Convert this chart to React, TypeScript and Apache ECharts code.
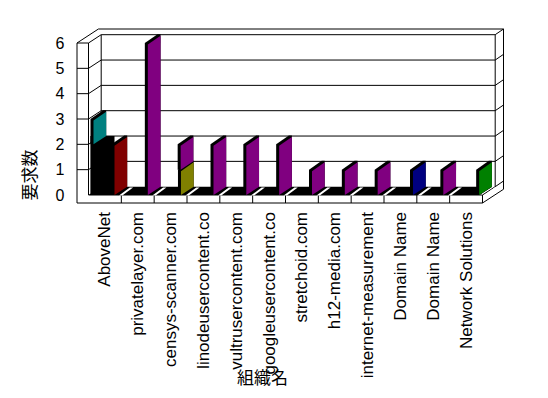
import React, { useEffect, useRef } from "react";
import * as echarts from "echarts";

// ---- data ----
const categories = [
  "AboveNet",
  "privatelayer.com",
  "censys-scanner.com",
  "linodeusercontent.co",
  "vultrusercontent.com",
  "googleusercontent.co",
  "stretchoid.com",
  "h12-media.com",
  "internet-measurement",
  "Domain Name",
  "Domain Name",
  "Network Solutions",
];
const yMin = 0;
const yMax = 6;
const yStep = 1;

const blackValues = [2, 0, 0, 0, 0, 0, 0, 0, 0, 0, 0, 0];
const tealValues = [1, 0, 0, 0, 0, 0, 0, 0, 0, 0, 0, 0];
const maroonValues = [2, 0, 0, 0, 0, 0, 0, 0, 0, 0, 0, 0];
const oliveValues = [0, 0, 1, 0, 0, 0, 0, 0, 0, 0, 0, 0];
const navyValues = [0, 0, 0, 0, 0, 0, 0, 0, 0, 1, 0, 0];
const greenValues = [0, 0, 0, 0, 0, 0, 0, 0, 0, 0, 0, 1];
const purpleValues = [0, 6, 1, 2, 2, 2, 1, 1, 1, 0, 1, 0];

const yAxisTitle = "要求数";
const xAxisTitle = "組織名";

// ---- style ----
const DX = 12.7; // depth offset x
const DY = -8.3; // depth offset y
const SLAB = 11.5; // left wall thickness (front face)
const FLOOR = 8; // floor thickness
const ODX = 8.3; // outer back thickness
const ODY = -5.7;
const EDGE = 3; // black edge on plates

const seriesDefs = [
  { name: "s1", values: blackValues, color: "#000000", stack: "front", slot: 1.9, kind: "block", blockEnd: 26 },
  { name: "s2", values: tealValues, color: "#008080", stack: "front", slot: 5, kind: "plate" },
  { name: "s3", values: maroonValues, color: "#800000", stack: "back", slot: 26, kind: "plate" },
  { name: "s4", values: oliveValues, color: "#808000", stack: "back", slot: 26.8, kind: "plate" },
  { name: "s5", values: navyValues, color: "#000080", stack: "back", slot: 29, kind: "plate" },
  { name: "s6", values: greenValues, color: "#008000", stack: "back", slot: 29.5, kind: "plate" },
  { name: "s7", values: purpleValues, color: "#800080", stack: "back", slot: 26.5, kind: "plate" },
];

const LINE = { stroke: "#000", lineWidth: 1, fill: "none" };

function ln(x1: number, y1: number, x2: number, y2: number) {
  return { type: "line", shape: { x1, y1, x2, y2 }, style: LINE, silent: true };
}

function frameRender(params: any, api: any) {
  const N = categories.length;
  const bw = api.size([1, 0])[0];
  const L = api.coord([0, 0])[0] - bw / 2;
  const R = api.coord([N - 1, 0])[0] + bw / 2;
  const yF = (v: number) => api.coord([0, v])[1];
  const y0 = yF(yMin);
  const yT = yF(yMax);
  const ticks: number[] = [];
  for (let v = yMin; v <= yMax; v += yStep) ticks.push(v);
  const c: any[] = [];
  // black floor top
  const Rb = R - 3;
  c.push({
    type: "polygon",
    shape: { points: [[L, y0], [L + DX, y0 + DY], [Rb + DX, y0 + DY], [Rb, y0]] },
    style: { fill: "#000" },
    silent: true,
  });
  // back wall grid lines
  ticks.forEach((v) => {
    if (v > yMin) c.push(ln(L + DX, yF(v) + DY, R + DX, yF(v) + DY));
  });
  // back wall edges
  c.push(ln(L + DX, yT + DY, L + DX, y0 + DY));
  c.push(ln(R + DX, yT + DY, R + DX, y0 + DY));
  // left wall front face
  c.push(ln(L - SLAB, yT, L - SLAB, y0 + FLOOR));
  c.push(ln(L, yT, L, y0));
  ticks.forEach((v) => {
    if (v > yMin) {
      c.push(ln(L - SLAB, yF(v), L, yF(v)));
      c.push(ln(L, yF(v), L + DX, yF(v) + DY));
    }
  });
  // outer top
  const yO = yT + DY + ODY;
  const k = (yO - yT) / DY;
  const xOL = L - SLAB + DX * k;
  c.push(ln(L - SLAB, yT, xOL, yO));
  c.push(ln(xOL, yO, R + DX + ODX, yO));
  // right outer slab
  const xOR = R + DX + ODX;
  const yBR = y0 + FLOOR + (DY / DX) * (DX + ODX);
  c.push(ln(xOR, yO, xOR, yBR));
  ticks.forEach((v) => {
    if (v < yMax) c.push(ln(R + DX, yF(v) + DY, xOR, yF(v) + DY + ODY));
  });
  c.push(ln(R + DX, yT + DY, xOR, yO));
  // floor
  c.push(ln(L, y0, R, y0));
  c.push(ln(L - SLAB, y0 + FLOOR, R, y0 + FLOOR));
  c.push(ln(R, y0, R, y0 + FLOOR));
  c.push(ln(R, y0, R + DX, y0 + DY));
  c.push(ln(R, y0 + FLOOR, xOR, yBR));
  for (let i = 1; i < N; i++) {
    const x = L + i * bw;
    c.push(ln(x, y0, x, y0 + FLOOR));
  }
  return { type: "group", children: c };
}

function makeBarRender(def: any) {
  return (params: any, api: any) => {
    const ci = api.value(0);
    const v0 = api.value(1);
    const v1 = api.value(2);
    const bw = api.size([1, 0])[0];
    const band = api.coord([ci, 0])[0] - bw / 2;
    const x = band + def.slot;
    const yF0 = api.coord([ci, v0])[1];
    const yF1 = api.coord([ci, v1])[1];
    const c: any[] = [];
    if (def.kind === "block") {
      const x2 = band + def.blockEnd;
      c.push({
        type: "polygon",
        shape: { points: [[x, yF0], [x, yF1 + DY], [x2, yF1 + DY], [x2, yF0]] },
        style: { fill: def.color },
      });
    } else {
      if (v0 === yMin) {
        c.push({
          type: "polygon",
          shape: {
            points: [
              [x + 4.5, yF0 + 0.5],
              [x + 7.8, yF0 + 0.5],
              [x + 7.8 + DX * 0.85, yF0 + DY * 0.9],
              [x + 4.5 + DX * 0.85, yF0 + DY * 0.9],
            ],
          },
          style: { fill: "#fff" },
        });
      }
      c.push({
        type: "polygon",
        shape: {
          points: [
            [x - EDGE, yF0],
            [x - EDGE, yF1],
            [x + DX - EDGE, yF1 + DY - 0.5],
            [x + DX, yF1 + DY - 0.5],
            [x + DX, yF0 + DY],
            [x, yF0],
          ],
        },
        style: { fill: "#000" },
      });
      c.push({
        type: "polygon",
        shape: {
          points: [
            [x, yF0],
            [x, yF1 + 1.5],
            [x + DX, yF1 + DY + 1],
            [x + DX, yF0 + DY],
          ],
        },
        style: { fill: def.color },
      });
    }
    return { type: "group", children: c };
  };
}

export default function App() {
  const ref = useRef<HTMLDivElement>(null);
  useEffect(() => {
    if (!ref.current) return;
    const chart = echarts.init(ref.current, undefined, { renderer: "svg" });
    const bases: Record<string, number[]> = {};
    const barSeries = seriesDefs.map((def, si) => {
      if (!bases[def.stack]) bases[def.stack] = categories.map(() => 0);
      const b = bases[def.stack];
      const data: number[][] = [];
      def.values.forEach((v, i) => {
        if (v > 0) {
          data.push([i, b[i], b[i] + v]);
          b[i] += v;
        }
      });
      return {
        type: "custom",
        name: def.name,
        z: 3 + si,
        renderItem: makeBarRender(def),
        encode: { x: 0, y: [1, 2] },
        data,
      };
    });
    chart.setOption({
      animation: false,
      backgroundColor: "#fff",
      grid: { left: 88.5, top: 43, width: 394, height: 152, outerBoundsMode: "none" },
      xAxis: {
        type: "category",
        data: categories,
        axisLine: { show: false },
        axisTick: { show: false },
        splitLine: { show: false },
        axisLabel: {
          rotate: 90,
          interval: 0,
          margin: 17,
          fontSize: 17,
          color: "#000",
          fontFamily: "Liberation Sans",
        },
      },
      yAxis: {
        type: "value",
        min: yMin,
        max: yMax,
        interval: yStep,
        axisLine: { show: false },
        axisTick: { show: false },
        splitLine: { show: false },
        axisLabel: {
          margin: 24,
          fontSize: 16,
          color: "#000",
          fontFamily: "Liberation Sans",
        },
      },
      graphic: [
        {
          type: "text",
          x: 28.5,
          y: 175,
          rotation: Math.PI / 2,
          style: {
            text: yAxisTitle,
            fontSize: 17,
            fontFamily: "Noto Sans CJK JP",
            fill: "#000",
            align: "center",
            verticalAlign: "middle",
          },
        },
        {
          type: "text",
          x: 262.5,
          y: 376,
          style: {
            text: xAxisTitle,
            fontSize: 17,
            fontFamily: "Noto Sans CJK JP",
            fill: "#000",
            align: "center",
            verticalAlign: "middle",
          },
        },
      ],
      series: [
        {
          type: "custom",
          name: "frame",
          z: 1,
          renderItem: frameRender,
          encode: { x: 0, y: 1 },
          data: [[0, 0]],
          silent: true,
        },
        ...barSeries,
      ],
    });
    return () => chart.dispose();
  }, []);
  return (
    <div
      ref={ref}
      style={{ position: "fixed", left: 0, top: 0, width: 548, height: 398, background: "#fff" }}
    />
  );
}
